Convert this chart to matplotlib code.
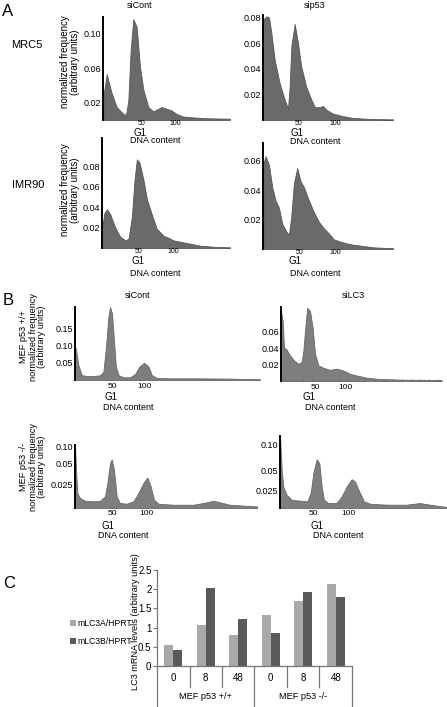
import numpy as np
import matplotlib
matplotlib.use('Agg')
import matplotlib.pyplot as plt
from matplotlib.ticker import MultipleLocator
from matplotlib.transforms import blended_transform_factory

plt.rcParams['font.family'] = ['Liberation Sans', 'DejaVu Sans']

# ---- data (DNA content vs normalized frequency) ----
# A, MRC5
mrc5_cont_x = [-6.4, -1.5, 5.9, 13.2, 23, 27, 30.4, 33.8, 37.7, 42.6, 47.5, 52.5, 59.8, 67, 72,
               79.4, 86.8, 94, 101.5, 111, 126, 145.6, 180]
mrc5_cont_y = [0.027, 0.053, 0.031, 0.015, 0.007, 0.006, 0.023, 0.081, 0.117, 0.108, 0.062, 0.035,
               0.015, 0.010, 0.012, 0.015, 0.013, 0.011, 0.007, 0.004, 0.003, 0.002, 0.0015]
mrc5_p53_x = [0, 4.6, 8.3, 11.6, 16.2, 23, 30, 34.7, 37, 39.4, 44, 48.6, 53, 60, 67, 72, 79, 83,
              88, 97, 111, 125, 148, 180.5]
mrc5_p53_y = [0.078, 0.081, 0.080, 0.068, 0.047, 0.029, 0.016, 0.009, 0.026, 0.058, 0.075, 0.060,
              0.042, 0.026, 0.016, 0.010, 0.010, 0.011, 0.008, 0.005, 0.003, 0.0016, 0.0008, 0.0005]
# A, IMR90
imr90_cont_x = [-2.4, 1, 4.8, 9.5, 16.7, 23.8, 31, 35.7, 40.5, 44.3, 47.6, 51.4, 57, 62, 69, 76,
                85.7, 93, 100, 114, 138, 162, 181]
imr90_cont_y = [0.018, 0.034, 0.038, 0.033, 0.020, 0.011, 0.0076, 0.009, 0.031, 0.067, 0.087, 0.084,
                0.067, 0.048, 0.033, 0.019, 0.012, 0.010, 0.0075, 0.0056, 0.0023, 0.001, 0.0007]
imr90_p53_x = [0, 3.2, 7.9, 12.5, 17, 21.8, 26.4, 32, 35.6, 38.9, 42.6, 47.2, 51.9, 56.5, 63.4,
               70.4, 77.3, 84.3, 91.2, 98, 107, 121, 135, 154, 181]
imr90_p53_y = [0.058, 0.063, 0.057, 0.042, 0.033, 0.028, 0.017, 0.012, 0.0095, 0.022, 0.0445, 0.055,
               0.046, 0.042, 0.033, 0.025, 0.0185, 0.014, 0.0106, 0.0066, 0.005, 0.0032, 0.0023,
               0.0011, 0.0005]
# B, MEF p53 +/+
mefwt_cont_x = [-7.8, -5.2, -2.6, 2.6, 10.4, 20.8, 31, 36.5, 40.6, 44.3, 46.9, 50, 53, 56, 60,
                67.7, 78, 86, 92.7, 100, 107, 112, 120, 146, 187.5, 234, 281]
mefwt_cont_y = [0.10, 0.077, 0.044, 0.0145, 0.0116, 0.0116, 0.0136, 0.024, 0.097, 0.184, 0.213,
                0.194, 0.116, 0.039, 0.0145, 0.0078, 0.0078, 0.0174, 0.039, 0.050, 0.039, 0.0145,
                0.0058, 0.0048, 0.0048, 0.004, 0.002]
mefwt_lc3_x = [-6.7, -3.9, -1.7, 2.8, 8.3, 15, 22, 27.8, 30.6, 33.3, 37, 41.7, 46, 50, 55.6, 64,
               75, 86, 97, 108, 119, 136, 158, 197, 261]
mefwt_lc3_y = [0.085, 0.073, 0.041, 0.038, 0.031, 0.025, 0.021, 0.023, 0.037, 0.061, 0.089, 0.085,
               0.065, 0.033, 0.019, 0.016, 0.0136, 0.015, 0.0128, 0.0088, 0.0068, 0.004, 0.0024,
               0.0016, 0.0012]
# B, MEF p53 -/-
mefko_cont_x = [-4.4, -2.9, -1, 2.9, 10.2, 22.3, 32, 39.3, 42.7, 46.6, 49, 52.4, 56.3, 61, 71,
                80.6, 87.9, 95, 101, 105.8, 110.7, 117, 139, 168, 187, 197, 207, 221, 261]
mefko_cont_y = [0.103, 0.042, 0.0156, 0.0104, 0.0076, 0.007, 0.0076, 0.0122, 0.0262, 0.05, 0.0618,
                0.042, 0.0122, 0.0052, 0.0045, 0.007, 0.0156, 0.0262, 0.033, 0.0226, 0.0086,
                0.0045, 0.0034, 0.0034, 0.0059, 0.0076, 0.0059, 0.0034, 0.0016]
mefko_lc3_x = [2.4, 4.8, 7.1, 11.9, 19, 31, 41.4, 46.2, 50, 54.8, 58.6, 61.9, 65.2, 71.4, 83.3,
               90.5, 97.6, 104.8, 109.5, 116.7, 122.4, 131, 154.8, 183, 202, 216.7, 240.5]
mefko_lc3_y = [0.116, 0.051, 0.030, 0.019, 0.012, 0.0106, 0.0097, 0.0217, 0.0467, 0.0715, 0.064,
               0.030, 0.012, 0.0072, 0.0072, 0.017, 0.030, 0.0393, 0.0365, 0.0217, 0.0097, 0.0062,
               0.0048, 0.0048, 0.0072, 0.0048, 0.0015]

# C, LC3 mRNA
lc3_times = ['0', '8', '48', '0', '8', '48']
lc3_groups = ['MEF p53 +/+', 'MEF p53 -/-']
lc3a = [0.555, 1.075, 0.81, 1.33, 1.68, 2.13]
lc3b = [0.42, 2.04, 1.23, 0.86, 1.93, 1.79]

W, H = 447, 707
fig = plt.figure(figsize=(W / 100, H / 100), dpi=100)


def box(l, t, r, b):
    return [l / W, 1 - b / H, (r - l) / W, (b - t) / H]


def txt(x, y, s, **kw):
    kw.setdefault('ha', 'center')
    kw.setdefault('va', 'center')
    fig.text(x / W, 1 - y / H, s, **kw)


def histogram(rect, x, y, xlim, ylim, yticks, ylabels, color, edge,
              knots=None, xpad=0.0, xfs=5, minor=False):
    ax = fig.add_axes(box(*rect))
    ax.patch.set_visible(False)
    if knots is not None:
        kv, kh = knots
        ax.set_yscale('function', functions=(lambda v: np.interp(v, kv, kh),
                                             lambda h: np.interp(h, kh, kv)))
    ax.fill_between(x, y, 0, facecolor=color, edgecolor=edge, lw=0.6)
    ax.set_xlim(xlim)
    ax.set_ylim(ylim)
    for s in ['top', 'right', 'bottom']:
        ax.spines[s].set_visible(False)
    ax.spines['left'].set_linewidth(1.4)
    ax.set_xticks([50, 100])
    ax.set_xticklabels(['50', '100'], fontsize=xfs)
    ax.set_yticks(yticks)
    ax.set_yticklabels(ylabels, fontsize=6.5)
    ax.tick_params(axis='x', length=0, pad=xpad)
    ax.tick_params(axis='y', length=0, pad=1.5)
    if minor:
        ax.xaxis.set_minor_locator(MultipleLocator(15))
        ax.tick_params(axis='x', which='minor', length=1.5, width=0.6,
                       direction='in', color='#666666')
    return ax


A_COL, A_EDGE = '#6a6a6a', '#555555'
B_COL, B_EDGE = '#7e7e7e', '#666666'

# ---- panel A ----
histogram((103, 17, 230, 120), mrc5_cont_x, mrc5_cont_y, (-6.9, 180), (0, 0.1195),
          [0.02, 0.06, 0.10], ['0.02', '0.06', '0.10'], A_COL, A_EDGE)
histogram((263, 15, 393, 120), mrc5_p53_x, mrc5_p53_y, (0, 180.5), (0, 0.082),
          [0.02, 0.04, 0.06, 0.08], ['0.02', '0.04', '0.06', '0.08'], A_COL, A_EDGE)
histogram((102, 138, 230, 248), imr90_cont_x, imr90_cont_y, (-2.3, 181), (0, 0.108),
          [0.02, 0.04, 0.06, 0.08], ['0.02', '0.04', '0.06', '0.08'], A_COL, A_EDGE)
histogram((263, 143, 393, 249), imr90_p53_x, imr90_p53_y, (-0.4, 180.5), (0, 0.072),
          [0.02, 0.04, 0.06], ['0.02', '0.04', '0.06'], A_COL, A_EDGE)

# ---- panel B ----
histogram((75, 307, 260, 380), mefwt_cont_x, mefwt_cont_y, (-7.8, 281), (0, 0.213),
          [0.05, 0.10, 0.15], ['0.05', '0.10', '0.15'], B_COL, B_EDGE, xpad=2.5, xfs=6)
histogram((281, 307, 442, 381), mefwt_lc3_x, mefwt_lc3_y, (-6.7, 261.7), (0, 0.09),
          [0.02, 0.04, 0.06], ['0.02', '0.04', '0.06'], B_COL, B_EDGE, xpad=2.5, xfs=6, minor=True)
histogram((75, 445, 257, 508), mefko_cont_x, mefko_cont_y, (-4.4, 260.6), (0, 0.104),
          [0.025, 0.05, 0.10], ['0.025', '0.05', '0.10'], B_COL, B_EDGE,
          knots=([0, 0.025, 0.05, 0.10, 0.2], [0, 24, 45, 62, 96]), xpad=1.5, xfs=6)
histogram((280, 436, 446, 508), mefko_lc3_x, mefko_lc3_y, (2.4, 239.6), (0, 0.116),
          [0.025, 0.05, 0.10], ['0.025', '0.05', '0.10'], B_COL, B_EDGE,
          knots=([0, 0.025, 0.05, 0.10, 0.2], [0, 17.3, 37.7, 64, 116.6]), xpad=1.5, xfs=6)

# ---- panel C ----
ax = fig.add_axes(box(157, 570, 352, 666))
pos = np.arange(len(lc3_times))
ba = ax.bar(pos - 0.14, lc3a, 0.28, color='#a9a9a9')
bb = ax.bar(pos + 0.14, lc3b, 0.28, color='#5a5a5a')
ax.set_xlim(-0.5, 5.5)
ax.set_ylim(0, 2.5)
for s in ['top', 'right']:
    ax.spines[s].set_visible(False)
for s in ['left', 'bottom']:
    ax.spines[s].set_color('#777777')
    ax.spines[s].set_linewidth(0.9)
ax.set_yticks([0, 0.5, 1, 1.5, 2, 2.5])
ax.set_yticklabels(['0', '0.5', '1', '1.5', '2', '2.5'], fontsize=7)
ax.tick_params(axis='y', length=3, color='#777777', pad=1)
ax.set_xticks([])
tr = blended_transform_factory(ax.transData, ax.transAxes)
for i in range(len(lc3_times) + 1):
    xs = i - 0.5
    depth = -0.43 if i % 3 == 0 else -0.22
    ax.plot([xs, xs], [0, depth], color='#777777', lw=0.9, transform=tr, clip_on=False)
for i, t in enumerate(lc3_times):
    ax.text(i, -0.125, t, transform=tr, ha='center', va='center', fontsize=7)
for g, name in enumerate(lc3_groups):
    ax.text(3 * g + 1, -0.32, name, transform=tr, ha='center', va='center', fontsize=6.6)

fig.legend([ba, bb], ['mLC3A/HPRT', 'mLC3B/HPRT'], loc='upper left',
           bbox_to_anchor=(70 / W, 1 - 619 / H), frameon=False, fontsize=6.2,
           handlelength=0.7, handleheight=0.7, handletextpad=0.2, labelspacing=1.0,
           borderpad=0, borderaxespad=0)

# ---- text ----
txt(8, 11, 'A', fontsize=12)
txt(8, 301, 'B', fontsize=12)
txt(9, 584, 'C', fontsize=12)

txt(140, 6, 'siCont', fontsize=6.5)
txt(315, 6, 'sip53', fontsize=6.5)
txt(138, 296, 'siCont', fontsize=6.5)
txt(353, 296, 'siLC3', fontsize=6.5)

txt(27, 45, 'MRC5', fontsize=8)
txt(28, 185, 'IMR90', fontsize=8)

ylab = 'normalized frequency\n(arbitrary units)'
txt(70, 62, ylab, rotation=90, fontsize=7, linespacing=1.0)
txt(70, 190, ylab, rotation=90, fontsize=7, linespacing=1.0)
txt(33, 337, 'MEF p53 +/+\n' + ylab, rotation=90, fontsize=6.6, linespacing=1.0)
txt(33, 467, 'MEF p53 -/-\n' + ylab, rotation=90, fontsize=6.6, linespacing=1.0)
txt(135, 622, 'LC3 mRNA levels (arbitrary units)', rotation=90, fontsize=6.6)

for gx, gy, dx, dy in [(140, 132.5, 155, 140.5), (297, 132.5, 315, 141),
                       (138, 261.5, 155, 273), (295, 261.5, 315, 273),
                       (111, 397.5, 128, 407), (309, 397.5, 330, 407),
                       (108, 526, 123, 535), (317, 526, 338, 536)]:
    txt(gx, gy, 'G1', fontsize=7)
    txt(dx, dy, 'DNA content', fontsize=6.5)

fig.savefig('out.png', dpi=100)
